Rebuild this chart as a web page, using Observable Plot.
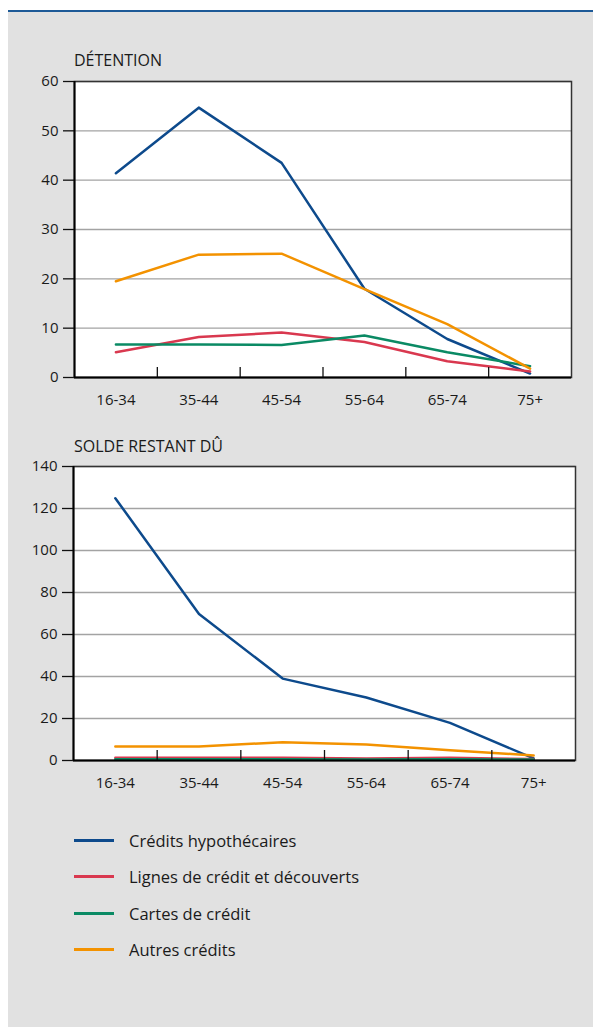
<!DOCTYPE html>
<html>
<head>
<meta charset="utf-8">
<script src="https://cdn.jsdelivr.net/npm/d3@7"></script>
<script src="https://cdn.jsdelivr.net/npm/@observablehq/plot@0.6"></script>
<style>
  html, body { margin: 0; padding: 0; background: #ffffff; }
  #page { position: relative; width: 593px; height: 1027px; overflow: hidden; font-family: "Open Sans", sans-serif; color: #1a1a1a; }
  #topline { position: absolute; left: 8px; right: 0; top: 10px; height: 2px; background: #1d5a97; }
  #panel { position: absolute; left: 8px; right: 0; top: 12px; bottom: 0; background: #e1e1e1; }
  .title { position: absolute; left: 74px; font-size: 16px; line-height: 16px; color: #1a1a1a; white-space: nowrap; }
  .chart { position: absolute; left: 0; }
  .legend { position: absolute; left: 74px; top: 826px; }
  .legend .item { position: relative; height: 36.3px; }
  .legend .sw { position: absolute; left: 0; top: 13px; width: 40px; height: 3px; }
  .legend .lab { position: absolute; left: 55px; top: 0; font-size: 16.5px; line-height: 29px; white-space: nowrap; color: #1a1a1a; }
</style>
</head>
<body>
<div id="page">
  <div id="topline"></div>
  <div id="panel"></div>
  <div class="title" style="top:52px">DÉTENTION</div>
  <div class="chart" id="c1" style="top:70px"></div>
  <div class="title" style="top:438px">SOLDE RESTANT DÛ</div>
  <div class="chart" id="c2" style="top:455px"></div>
  <div class="legend" id="legend"></div>
</div>
<script>
const ages = ["16-34", "35-44", "45-54", "55-64", "65-74", "75+"];
const seriesNames = ["Crédits hypothécaires", "Lignes de crédit et découverts", "Cartes de crédit", "Autres crédits"];
const seriesColors = ["#0d4a8c", "#d9384f", "#0a8a64", "#f39200"];

// DÉTENTION
const detHypo   = [41.4, 54.7, 43.5, 18.0, 7.8, 0.8];
const detLignes = [5.1, 8.2, 9.1, 7.2, 3.3, 1.2];
const detCartes = [6.7, 6.7, 6.6, 8.5, 5.1, 2.3];
const detAutres = [19.5, 24.9, 25.1, 17.9, 10.8, 1.8];
const detTicks  = [0, 10, 20, 30, 40, 50, 60];

// SOLDE RESTANT DÛ
const solHypo   = [124.9, 69.8, 39.0, 30.0, 17.9, 1.0];
const solLignes = [1.3, 1.3, 1.3, 1.0, 1.3, 0.7];
const solCartes = [0.6, 0.6, 0.6, 0.5, 0.6, 0.5];
const solAutres = [6.7, 6.7, 8.7, 7.6, 4.9, 2.4];
const solTicks  = [0, 20, 40, 60, 80, 100, 120, 140];

function toRows(arrays) {
  const rows = [];
  arrays.forEach((arr, s) => arr.forEach((v, i) => rows.push({series: seriesNames[s], i, value: v})));
  return rows;
}

function chart(arrays, yTicks, layout) {
  const rows = toRows(arrays);
  const idx = d3.range(ages.length);
  const bounds = d3.range(ages.length - 1).map(i => i + 0.5);
  return Plot.plot({
    width: 593,
    height: layout.height,
    marginLeft: layout.marginLeft,
    marginRight: layout.marginRight,
    marginTop: 11,
    marginBottom: 40,
    style: {fontFamily: "Open Sans, sans-serif", fontSize: "15px", color: "#1a1a1a", background: "transparent", overflow: "visible"},
    x: {type: "linear", domain: [-0.5, ages.length - 0.5]},
    y: {domain: [yTicks[0], yTicks[yTicks.length - 1]]},
    color: {domain: seriesNames, range: seriesColors},
    marks: [
      Plot.frame({fill: "white", stroke: null}),
      Plot.gridY(yTicks, {stroke: "#a3a3a3", strokeOpacity: 1, strokeWidth: 1.3}),
      Plot.line(rows, {x: "i", y: "value", z: "series", stroke: "series", strokeWidth: 2.5}),
      Plot.axisX(idx, {tickSize: 0, tickPadding: 17, tickFormat: i => ages[i], fontSize: 15, label: null}),
      Plot.axisX(bounds, {tickSize: -10, tickFormat: () => "", stroke: "#111", strokeWidth: 1.3, label: null}),
      Plot.axisY(yTicks, {tickSize: 11, tickPadding: 5, fontSize: 15, stroke: "#111", strokeWidth: 1.3, label: null}),
      Plot.frame({stroke: "#333", strokeWidth: 1.5}),
      Plot.ruleX([-0.5], {stroke: "#000", strokeWidth: 2}),
      Plot.ruleY([0], {stroke: "#000", strokeWidth: 2})
    ]
  });
}

document.getElementById("c1").appendChild(
  chart([detHypo, detLignes, detCartes, detAutres], detTicks, {height: 347, marginLeft: 74, marginRight: 22})
);
document.getElementById("c2").appendChild(
  chart([solHypo, solLignes, solCartes, solAutres], solTicks, {height: 345, marginLeft: 73, marginRight: 18})
);

const legend = document.getElementById("legend");
seriesNames.forEach((name, k) => {
  const item = document.createElement("div");
  item.className = "item";
  const sw = document.createElement("div");
  sw.className = "sw";
  sw.style.background = seriesColors[k];
  const lab = document.createElement("div");
  lab.className = "lab";
  lab.textContent = name;
  item.appendChild(sw);
  item.appendChild(lab);
  legend.appendChild(item);
});
</script>
</body>
</html>
